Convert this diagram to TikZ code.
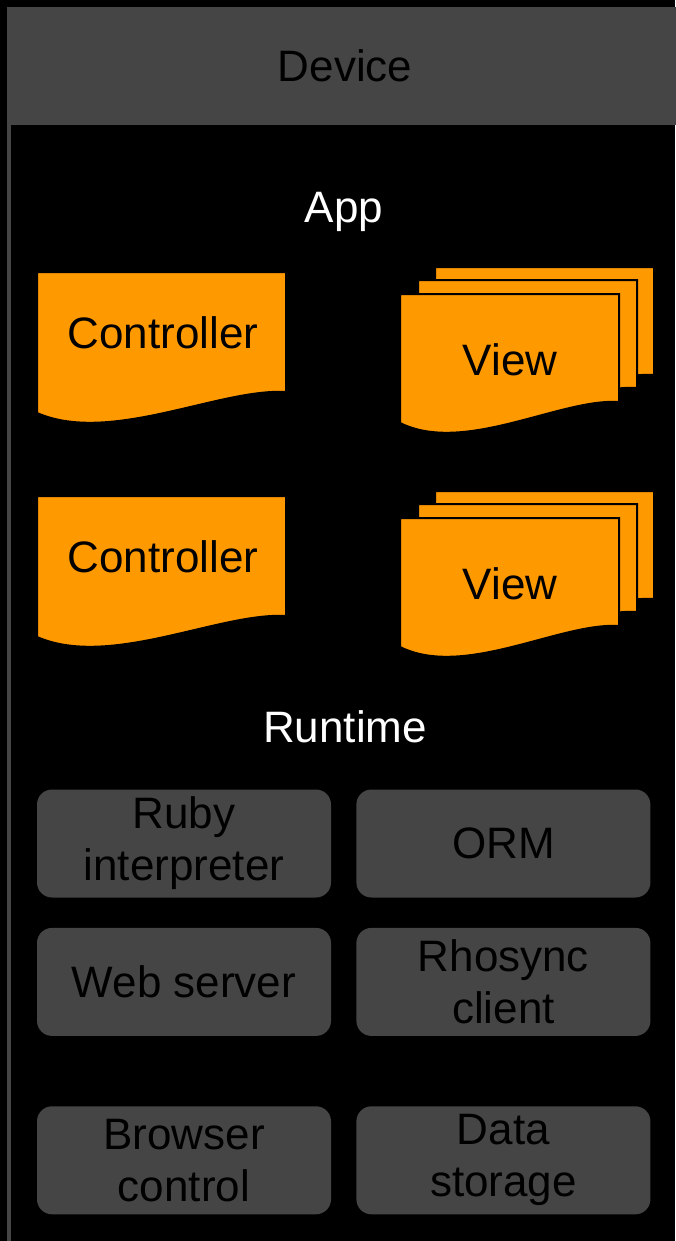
\documentclass[tikz,border=0pt]{standalone}
\usepackage{fontspec}
\setmainfont{Liberation Sans}
\usepackage{xcolor}
\usetikzlibrary{positioning}

\definecolor{devgray}{RGB}{69,69,69}
\definecolor{apporange}{RGB}{255,153,0}

% wavy page: x, y, width, left height
\newcommand{\wavepage}[4]{%
  \filldraw[wavefill] (#1,#2) -- ({#1+#3},#2) -- ({#1+#3},{#2+#4-21})
    .. controls ({#1+0.735*#3},{#2+#4-25}) and ({#1+0.293*#3},{#2+#4+32}) .. (#1,{#2+#4}) -- cycle;}

\begin{document}
\begin{tikzpicture}[x=1pt, y=-1pt,
    every node/.style={font=\fontsize{44}{52}\selectfont},
    wavefill/.style={fill=apporange, draw=black, line width=2pt},
    devhead/.style={rectangle, fill=devgray, anchor=north west, minimum width=676pt, minimum height=118pt, inner sep=0pt, text=black},
    sectlabel/.style={anchor=base, text=white},
    pagelabel/.style={anchor=base, text=black},
    rtbox/.style={rectangle, rounded corners=15pt, fill=devgray, minimum width=294pt, minimum height=108pt, inner sep=0pt, align=center, text=black}]
    \useasboundingbox (0,0) rectangle (675,1241);
    \fill[black] (0,0) rectangle (675,1241);

    % Device frame
    \node[devhead] (device) at (7,7) {Device};
    \fill[devgray] (7,125) rectangle (11,1241);

    % App
    \node[sectlabel] (app) at (344,223) {App};
    \wavepage{37}{272}{249}{141}
    \node[pagelabel] (ctrlA) at (163,348) {Controller};
    \wavepage{435}{267}{219}{129}
    \wavepage{418}{280}{219}{129}
    \wavepage{400}{294}{219}{129}
    \node[pagelabel] (viewA) at (510,375) {View};

    \wavepage{37}{496}{249}{141}
    \node[pagelabel] (ctrlB) at (163,572) {Controller};
    \wavepage{435}{491}{219}{129}
    \wavepage{418}{504}{219}{129}
    \wavepage{400}{518}{219}{129}
    \node[pagelabel] (viewB) at (510,599) {View};

    % Runtime
    \node[sectlabel] (runtime) at (345,742) {Runtime};
    \node[rtbox] (ruby) at (184,843.5) {Ruby\\interpreter};
    \node[rtbox, right=25pt of ruby] (orm) {ORM};
    \node[rtbox, below=30pt of ruby] (websrv) {Web server};
    \node[rtbox, right=25pt of websrv] (rhosync) {Rhosync\\client};
    \node[rtbox, below=70pt of websrv] (browser) {Browser\\control};
    \node[rtbox, right=25pt of browser] (storage) {Data\\storage};
\end{tikzpicture}
\end{document}
